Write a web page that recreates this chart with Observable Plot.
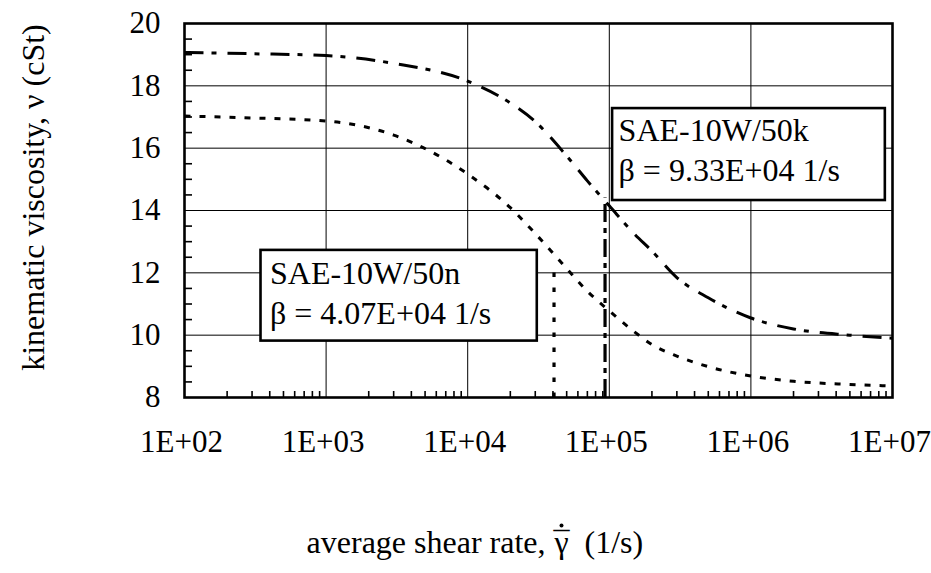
<!DOCTYPE html>
<html>
<head>
<meta charset="utf-8">
<script src="https://cdn.jsdelivr.net/npm/d3@7"></script>
<script src="https://cdn.jsdelivr.net/npm/@observablehq/plot@0.6"></script>
<style>
  html, body { margin: 0; padding: 0; background: #fff; }
  #chart svg { display: block; }
</style>
</head>
<body>
<div id="chart"></div>
<script>
// Kinematic viscosity vs. average shear rate for two SAE-10W/50 oils
const shearRate = [100, 300, 1000, 3000, 10000, 20000, 30000, 50000, 70000,
  100000, 150000, 200000, 300000, 500000, 1e6, 2e6, 5e6, 1e7];
const viscosityK = [19.07, 19.03, 18.97, 18.72, 18.15, 17.45, 16.85, 15.75, 14.95,
  14.15, 13.25, 12.70, 11.85, 11.20, 10.55, 10.20, 10.00, 9.90];
const viscosityN = [17.03, 16.97, 16.87, 16.42, 15.17, 14.09, 13.26, 12.14, 11.41,
  10.78, 10.11, 9.70, 9.33, 8.99, 8.69, 8.52, 8.42, 8.37];

const seriesNames = ["SAE-10W/50k", "SAE-10W/50n"];
const betas = [9.33e4, 4.07e4];          // characteristic shear rate, 1/s
const betaViscosity = [14.4, 12.2];       // top of the marker at each beta

const xTicks = [1e2, 1e3, 1e4, 1e5, 1e6, 1e7];
const yTicks = [8, 10, 12, 14, 16, 18, 20];

// Layout
const W = 931, H = 573;
const mL = 184, mT = 23, mR = 39, mB = 176;
const frameW = W - mL - mR, frameH = H - mT - mB;
const serif = "'Liberation Serif', 'Times New Roman', serif";
const fsTick = 31, fsText = 32;

const dashDot = "19,8,5,11";
const dotted = "6,9";
const styles = [dashDot, dotted];

const curves = seriesNames.map((name, i) => ({
  name,
  dash: styles[i],
  points: shearRate.map((x, j) => ({x, y: (i === 0 ? viscosityK : viscosityN)[j]}))
}));

const markers = seriesNames.map((name, i) => ({
  name, beta: betas[i], top: betaViscosity[i],
  dash: i === 0 ? "18,6,5,6" : "4.5,10.5"
}));

// Annotation boxes placed in data space
const fmtBeta = b => b.toExponential(2).toUpperCase().replace(/E\+(\d)$/, "E+0$1");
const notes = [
  {x1: 1.055e5, x2: 8.9e6, y1: 17.27, y2: 14.32, dx: 6, dy: 4},
  {x1: 347, x2: 3.1e4, y1: 12.72, y2: 9.81, dx: 9, dy: 5}
].map((n, i) => ({...n, label: `${seriesNames[i]}\nβ = ${fmtBeta(betas[i])} 1/s`}));

// Minor ticks
const minorX = [];
for (let e = 2; e < 7; e++) for (let m = 2; m <= 9; m++) minorX.push(m * 10 ** e);
const minorY = d3.range(8.5, 20, 0.5).filter(v => v % 2 !== 0);

// Axis titles
const titleStyle = {fontSize: fsText, fontFamily: serif, fill: "black", lineAnchor: "middle"};
const xTitleDy = 145;   // baseline a little above the bottom edge

const marks = [
  Plot.gridX(xTicks.slice(1, -1), {stroke: "black", strokeOpacity: 1, strokeWidth: 1}),
  Plot.gridY(yTicks.slice(1, -1), {stroke: "black", strokeOpacity: 1, strokeWidth: 1}),
  Plot.tickX(minorX, {x: d => d, insetTop: frameH - 6, stroke: "black", strokeWidth: 1.6}),
  Plot.tickY(minorY, {y: d => d, insetRight: frameW - 8, stroke: "black", strokeWidth: 1.6}),
  ...curves.map(c => Plot.line(c.points, {
    x: "x", y: "y", curve: "monotone-x", stroke: "black", strokeWidth: 3,
    strokeDasharray: c.dash, strokeLinecap: "butt"
  })),
  ...markers.map(m => Plot.ruleX([m], {
    x: "beta", y1: 8, y2: "top", stroke: "black", strokeWidth: 3.2,
    strokeDasharray: m.dash
  })),
  Plot.rect(notes, {x1: "x1", x2: "x2", y1: "y1", y2: "y2",
    fill: "white", stroke: "black", strokeWidth: 2.6}),
  ...notes.map(n => Plot.text([n], {
    x: "x1", y: "y1", text: "label", textAnchor: "start", lineAnchor: "top",
    dx: n.dx, dy: n.dy, lineHeight: 1.25, fontSize: fsText, fontFamily: serif, fill: "black"
  })),
  Plot.frame({stroke: "black", strokeWidth: 2.6}),
  Plot.axisX(xTicks, {
    tickSize: 0, tickPadding: 32, dx: -3, fontSize: fsTick, fontFamily: serif, label: null,
    tickFormat: d => `1E+${String(Math.round(Math.log10(d))).padStart(2, "0")}`
  }),
  Plot.axisY(yTicks, {
    tickSize: 0, tickPadding: 24, fontSize: fsTick, fontFamily: serif, label: null
  }),
  // x title: words, the shear-rate symbol with its bar and dot, then units
  Plot.text(["average shear rate,"], {...titleStyle, frameAnchor: "bottom", textAnchor: "end", dx: 7, dy: xTitleDy}),
  Plot.text(["γ"], {...titleStyle, frameAnchor: "bottom", textAnchor: "middle", dx: 23, dy: xTitleDy}),
  Plot.text(["¯"], {...titleStyle, frameAnchor: "bottom", textAnchor: "middle", dx: 23, dy: xTitleDy + 1.5}),
  Plot.dot([0], {frameAnchor: "bottom", dx: 23, dy: xTitleDy - 17, r: 2, fill: "black", stroke: null}),
  Plot.text(["(1/s)"], {...titleStyle, frameAnchor: "bottom", textAnchor: "start", dx: 46, dy: xTitleDy}),
  Plot.text(["kinematic viscosity, ν (cSt)"], {
    ...titleStyle, frameAnchor: "left", textAnchor: "middle", rotate: -90, dx: -151, dy: -13
  })
];

const chart = Plot.plot({
  width: W, height: H,
  marginLeft: mL, marginTop: mT, marginRight: mR, marginBottom: mB,
  style: {fontFamily: serif, fontSize: fsTick + "px", color: "black", background: "white"},
  x: {type: "log", domain: [1e2, 1e7]},
  y: {domain: [8, 20]},
  marks
});
document.getElementById("chart").appendChild(chart);
</script>
</body>
</html>
